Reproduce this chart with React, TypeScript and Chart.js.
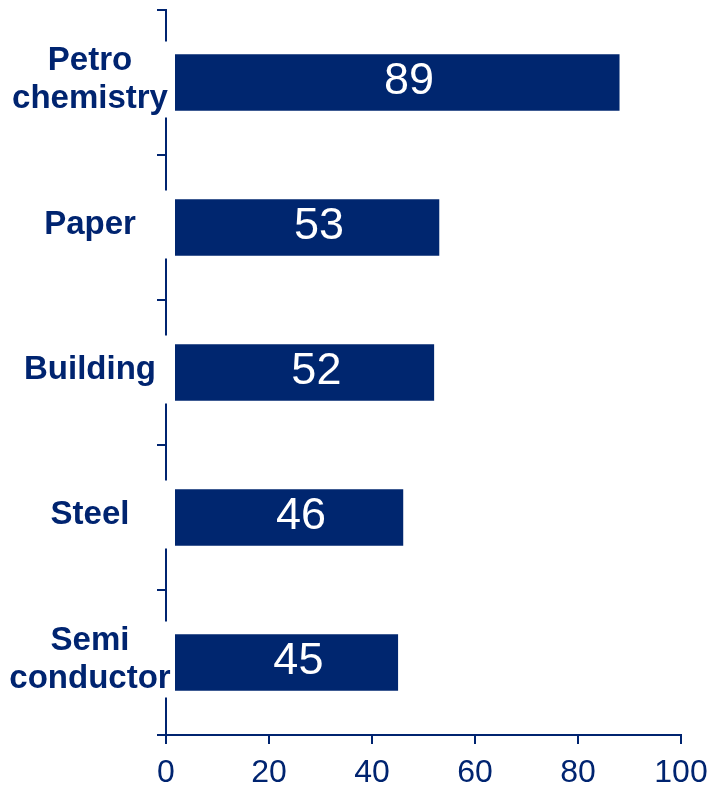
import React, { useEffect, useRef } from "react";
import { Chart, registerables } from "chart.js";

Chart.register(...registerables);

const categories: string[][] = [["Petro", "chemistry"], ["Paper"], ["Building"], ["Steel"], ["Semi", "conductor"]];
const barValues = [88, 53, 52, 46, 45];
const valueLabels = ["89", "53", "52", "46", "45"];
const xMin = 0;
const xMax = 100;
const xStep = 20;

const NAVY = "#002470";
const FONT = "'Liberation Sans', Arial, Helvetica, sans-serif";

const overlayPlugin = {
  id: "overlayLabels",
  afterDatasetsDraw(chart: any) {
    const { ctx, chartArea } = chart;
    const meta = chart.getDatasetMeta(0);
    ctx.save();
    ctx.textAlign = "center";
    ctx.textBaseline = "middle";
    // values inside bars
    ctx.fillStyle = "#ffffff";
    ctx.font = `45px ${FONT}`;
    meta.data.forEach((bar: any, i: number) => {
      const p = bar.getProps(["x", "y", "base"], true);
      ctx.fillText(valueLabels[i], (p.x + p.base) / 2 + 16, p.y - 1);
    });
    // category labels with white text frames
    const lineH = 38;
    ctx.font = `bold 33px ${FONT}`;
    meta.data.forEach((bar: any, i: number) => {
      const lines = categories[i];
      const cy = bar.y - 3;
      const half = lines.length > 1 ? 38 : 34;
      ctx.fillStyle = "#ffffff";
      ctx.fillRect(0, cy - half, chartArea.left + 9, half * 2);
      ctx.fillStyle = NAVY;
      lines.forEach((t, k) => {
        ctx.fillText(t, chartArea.left - 76, cy + (k - (lines.length - 1) / 2) * lineH);
      });
    });
    ctx.restore();
  },
};

export default function App() {
  const ref = useRef<HTMLCanvasElement | null>(null);

  useEffect(() => {
    if (!ref.current) return;
    const chart = new Chart(ref.current, {
      type: "bar",
      data: {
        labels: categories.map((c) => c.join(" ")),
        datasets: [
          {
            data: barValues,
            backgroundColor: "#00266F",
            borderWidth: 0,
            barThickness: 56,
          },
        ],
      },
      options: {
        indexAxis: "y",
        responsive: false,
        animation: false,
        layout: { padding: { top: 10, right: 31, left: 0, bottom: 0 } },
        plugins: { legend: { display: false }, tooltip: { enabled: false } },
        scales: {
          x: {
            type: "linear",
            min: xMin,
            max: xMax,
            ticks: {
              stepSize: xStep,
              color: NAVY,
              font: { size: 32, family: FONT },
              padding: 10,
              maxRotation: 0,
            },
            grid: {
              drawOnChartArea: false,
              drawTicks: true,
              tickLength: 9,
              color: NAVY,
              lineWidth: 2,
            },
            border: { display: true, color: NAVY, width: 2 },
            afterFit: (s: any) => {
              s.height = 56;
              s.paddingLeft = 0;
              s.paddingRight = 0;
            },
          },
          y: {
            type: "category",
            offset: true,
            ticks: { display: false },
            grid: {
              offset: true,
              drawOnChartArea: false,
              drawTicks: true,
              tickLength: 9,
              color: NAVY,
              lineWidth: 2,
            },
            border: { display: true, color: NAVY, width: 2 },
            afterFit: (s: any) => {
              s.width = 166;
              s.paddingTop = 0;
              s.paddingBottom = 0;
            },
          },
        },
      } as any,
      plugins: [overlayPlugin],
    });
    return () => chart.destroy();
  }, []);

  return (
    <div style={{ position: "absolute", left: 0, top: 0, width: 712, height: 791, background: "#fff" }}>
      <canvas ref={ref} width={712} height={791} style={{ display: "block" }} />
    </div>
  );
}
